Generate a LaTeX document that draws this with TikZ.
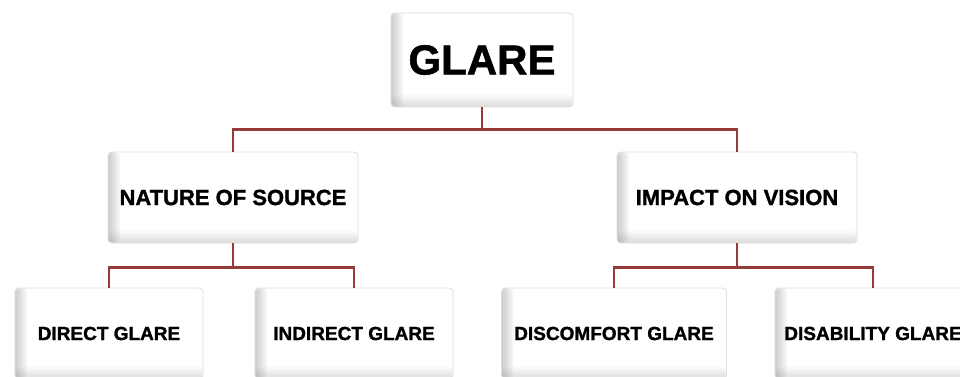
\documentclass[tikz,border=0pt]{standalone}
\usepackage{fontspec}
\setmainfont{Liberation Sans}
\newfontfamily\boxfont[FakeBold=1.3]{Liberation Sans Bold}
\usepackage{tikz}
\usetikzlibrary{positioning}
\definecolor{linkred}{RGB}{150,58,58}
\definecolor{boxline}{RGB}{220,220,224}

\begin{document}
\begin{tikzpicture}[x=1pt,y=-1pt,
		box/.style={draw=boxline, line width=0.8pt, fill=white, rounded corners=4pt,
			inner sep=0pt, minimum height=91pt, align=center,
			path picture={
				% bevel on the left and bottom edges
				\foreach \w in {2,4,...,12}{
					\fill[gray, opacity=0.07]
						(path picture bounding box.north west) rectangle
						([xshift=\w pt]path picture bounding box.south west);
					\fill[gray, opacity=0.045]
						(path picture bounding box.south west) rectangle
						([yshift=\w pt]path picture bounding box.south east);}}},
		link/.style={draw=linkred, line width=2.4pt}]
			\useasboundingbox (0,0) rectangle (960,377);
			% top box
			\node[box, minimum width=182pt, minimum height=94pt,
				font=\fontsize{42}{46}\selectfont\boxfont] (glare) at (482,60) {GLARE};
			% second row
			\node[box, minimum width=250pt, font=\fontsize{22}{26}\selectfont\boxfont]
				(nature) at (233,197.5) {NATURE OF SOURCE};
			\node[box, minimum width=240pt, font=\fontsize{22}{26}\selectfont\boxfont]
				(impact) at (737,197.5) {IMPACT ON VISION};
			% third row
			\node[box, minimum width=188pt, font=\fontsize{19}{22}\selectfont\boxfont]
				(direct) at (109,333.5) {DIRECT GLARE};
			\node[box, minimum width=198pt, font=\fontsize{19}{22}\selectfont\boxfont]
				(indirect) at (354,333.5) {INDIRECT GLARE};
			\node[box, minimum width=225pt, font=\fontsize{19}{22}\selectfont\boxfont]
				(discomfort) at (614,333.5) {DISCOMFORT GLARE};
			\node[box, minimum width=196pt, font=\fontsize{19}{22}\selectfont\boxfont]
				(disability) at (873,333.5) {DISABILITY GLARE};
			% connectors
			\draw[link] (glare.south) -- ++(0,22) -| (nature.north);
			\draw[link] (glare.south) -- ++(0,22) -| (impact.north);
			\draw[link] (nature.south) -- ++(0,24) -| (direct.north);
			\draw[link] (nature.south) -- ++(0,24) -| (indirect.north);
			\draw[link] (impact.south) -- ++(0,24) -| (discomfort.north);
			\draw[link] (impact.south) -- ++(0,24) -| (disability.north);
		\end{tikzpicture}
\end{document}
